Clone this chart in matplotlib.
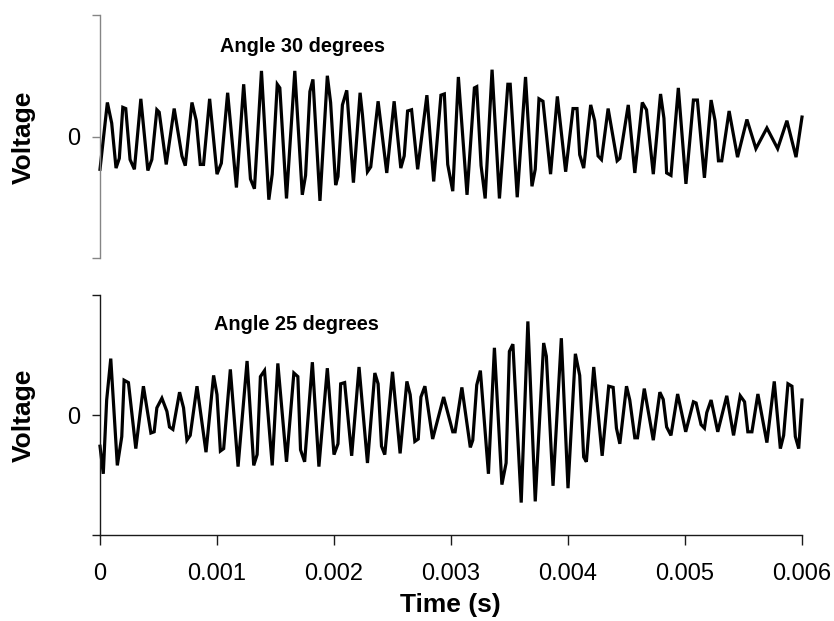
import matplotlib
matplotlib.use("Agg")
import matplotlib.pyplot as plt
import numpy as np

# ---- data (time in ms, voltage in arbitrary units, axis range -1..1) ----
t_top_ms = [0, 0.063, 0.100, 0.137, 0.165, 0.195, 0.220, 0.257, 0.294, 0.349,
            0.409, 0.443, 0.486, 0.506, 0.566, 0.634, 0.700, 0.729, 0.786, 0.823,
            0.857, 0.885, 0.937, 1.000, 1.037, 1.091, 1.166, 1.228, 1.286, 1.320,
            1.380, 1.443,
            1.472, 1.515, 1.537, 1.594, 1.665, 1.729, 1.757, 1.794, 1.820, 1.880,
            1.943, 1.971, 2.014, 2.034, 2.072, 2.109, 2.166, 2.223, 2.243, 2.286,
            2.314, 2.377, 2.451, 2.514, 2.571, 2.600, 2.629, 2.663, 2.715, 2.794,
            2.852,
            2.914, 2.943, 2.972, 3.015, 3.063, 3.137, 3.200, 3.220, 3.257, 3.292,
            3.351, 3.414, 3.486, 3.506, 3.566, 3.637, 3.692, 3.720, 3.752, 3.786,
            3.851, 3.909, 3.980, 4.043, 4.077, 4.100, 4.134, 4.194, 4.228, 4.257,
            4.286, 4.343, 4.420,
            4.443, 4.515, 4.571, 4.635, 4.671, 4.729, 4.791, 4.820, 4.843, 4.880,
            4.943, 5.008, 5.072, 5.106, 5.166, 5.223, 5.257, 5.286, 5.314, 5.377,
            5.449, 5.529, 5.606, 5.700, 5.792, 5.871, 5.949, 6.0]
v_top = [-0.27, 0.28, 0.11, -0.26, -0.18, 0.24, 0.23, -0.19, -0.27, 0.31,
         -0.28, -0.19, 0.22, 0.20, -0.23, 0.23, -0.16, -0.24, 0.28, 0.13,
         -0.23, -0.23, 0.31, -0.31, -0.22, 0.36, -0.42, 0.43, -0.35, -0.43,
         0.54, -0.52,
         -0.31, 0.43, 0.40, -0.51, 0.54, -0.48, -0.32, 0.37, 0.47, -0.53,
         0.50, 0.28, -0.40, -0.33, 0.26, 0.38, -0.38, 0.36, 0.18, -0.29,
         -0.25, 0.29, -0.30, 0.29, -0.26, -0.16, 0.21, 0.22, -0.27, 0.34,
         -0.37,
         0.34, 0.35, -0.23, -0.45, 0.49, -0.48, 0.40, 0.41, -0.24, -0.51,
         0.55, -0.51, 0.43, 0.43, -0.50, 0.49, -0.41, -0.27, 0.31, 0.29,
         -0.31, 0.33, -0.29, 0.23, 0.23, -0.15, -0.26, 0.26, 0.13, -0.16,
         -0.19, 0.23, -0.20,
         -0.18, 0.26, -0.30, 0.28, 0.22, -0.31, 0.35, 0.15, -0.30, -0.32,
         0.40, -0.39, 0.30, 0.30, -0.34, 0.30, 0.13, -0.20, -0.20, 0.21,
         -0.17, 0.14, -0.10, 0.07, -0.10, 0.13, -0.17, 0.16]

t_bot_ms = [0, 0.028, 0.057, 0.092, 0.148, 0.186, 0.206, 0.243, 0.306, 0.371,
            0.435, 0.463, 0.486, 0.529, 0.572, 0.594, 0.623, 0.680, 0.714, 0.743,
            0.771, 0.829, 0.906, 0.971, 1.000, 1.029, 1.057, 1.114, 1.180, 1.257,
            1.314, 1.343, 1.371, 1.406,
            1.472, 1.520, 1.594, 1.657, 1.691, 1.714, 1.749, 1.815, 1.871, 1.943,
            2.000, 2.034, 2.057, 2.091, 2.151, 2.214, 2.286, 2.349, 2.377, 2.406,
            2.434, 2.500, 2.565, 2.623, 2.651, 2.691, 2.720, 2.743, 2.777, 2.843,
            2.937, 3.015, 3.035, 3.093, 3.165, 3.186, 3.220, 3.251, 3.320, 3.371,
            3.435, 3.471, 3.499, 3.529, 3.600, 3.657, 3.720, 3.792, 3.815, 3.872,
            3.943, 4.000, 4.063, 4.100, 4.134, 4.157, 4.220, 4.292, 4.348, 4.386,
            4.414, 4.443,
            4.500, 4.528, 4.571, 4.594, 4.652, 4.729, 4.785, 4.814, 4.843, 4.880,
            4.937, 5.006, 5.072, 5.095, 5.137, 5.166, 5.186, 5.223, 5.280, 5.357,
            5.415, 5.472, 5.509, 5.537, 5.572, 5.623, 5.700, 5.763, 5.815, 5.843,
            5.880, 5.914, 5.943, 5.972, 6.0]
v_bot = [-0.26, -0.49, 0.125, 0.47, -0.42, -0.18, 0.29, 0.27, -0.28, 0.24,
         -0.15, -0.14, 0.06, 0.14, 0.03, -0.10, -0.12, 0.19, 0.06, -0.21,
         -0.17, 0.24, -0.31, 0.33, 0.17, -0.30, -0.28, 0.38, -0.43, 0.45,
         -0.42, -0.33, 0.32, 0.37,
         -0.42, 0.43, -0.39, 0.35, 0.32, -0.29, -0.39, 0.44, -0.43, 0.39,
         -0.33, -0.24, 0.26, 0.27, -0.34, 0.40, -0.40, 0.35, 0.26, -0.26,
         -0.33, 0.36, -0.32, 0.28, 0.17, -0.22, -0.20, 0.15, 0.24, -0.20,
         0.15, -0.14, -0.14, 0.23, -0.27, -0.21, 0.25, 0.37, -0.49, 0.56,
         -0.58, -0.40, 0.53, 0.59, -0.73, 0.78, -0.72, 0.60, 0.49, -0.59,
         0.64, -0.61, 0.51, 0.33, -0.35, -0.39, 0.40, -0.34, 0.24, 0.23,
         -0.11, -0.24,
         0.24, 0.125, -0.19, -0.19, 0.22, -0.21, 0.19, 0.13, -0.10, -0.17,
         0.175, -0.14, 0.11, 0.10, -0.08, -0.11, 0.02, 0.125, -0.14, 0.16,
         -0.17, 0.16, 0.11, -0.14, -0.14, 0.175, -0.23, 0.28, -0.28, -0.17,
         0.26, 0.24, -0.18, -0.28, 0.125]

x_ticks = [0, 0.001, 0.002, 0.003, 0.004, 0.005, 0.006]
x_tick_labels = ["0", "0.001", "0.002", "0.003", "0.004", "0.005", "0.006"]
y_ticks = [-1, 0, 1]
y_tick_labels = ["", "0", ""]
titles = ["Angle 30 degrees", "Angle 25 degrees"]

t_top = np.array(t_top_ms) / 1000.0
t_bot = np.array(t_bot_ms) / 1000.0

plt.rcParams['font.family'] = ['Liberation Sans', 'DejaVu Sans']

W, H = 834, 621
fig = plt.figure(figsize=(W / 100, H / 100), dpi=100)

def frac_rect(x0, y0, x1, y1):
    return [x0 / W, 1 - y1 / H, (x1 - x0) / W, (y1 - y0) / H]

ax1 = fig.add_axes(frac_rect(100, 15, 802, 258))
ax2 = fig.add_axes(frac_rect(100, 295, 802, 535))

for ax, t, v, spine_col in [(ax1, t_top, v_top, '#858585'), (ax2, t_bot, v_bot, '#1a1a1a')]:
    ax.plot(t, v, color='black', lw=2.3, solid_joinstyle='miter', clip_on=False)
    ax.set_xlim(0, 0.006)
    ax.set_ylim(-1, 1)
    ax.set_yticks(y_ticks)
    ax.set_yticklabels(y_tick_labels)
    for s in ['top', 'right']:
        ax.spines[s].set_visible(False)
    ax.spines['left'].set_color(spine_col)
    ax.spines['left'].set_linewidth(1.0)
    ax.tick_params(axis='y', direction='out', length=6, width=1.0, color=spine_col,
                   labelsize=17, pad=8.5)
    ax.patch.set_visible(False)

ax1.spines['bottom'].set_visible(False)
ax1.set_xticks([])

ax2.spines['bottom'].set_color('#1a1a1a')
ax2.spines['bottom'].set_linewidth(1.0)
ax2.set_xticks(x_ticks)
ax2.set_xticklabels(x_tick_labels)
ax2.tick_params(axis='x', direction='out', length=7, width=1.0, color='#1a1a1a',
                labelsize=17, pad=13)

fig.text(302 / W, 1 - 47 / H, titles[0], fontsize=14.3, fontweight='bold',
         ha='center', va='center')
fig.text(296 / W, 1 - 325 / H, titles[1], fontsize=14.3, fontweight='bold',
         ha='center', va='center')
fig.text(24 / W, 1 - 137 / H, "Voltage", fontsize=19, fontweight='bold',
         rotation=90, ha='center', va='center')
fig.text(24 / W, 1 - 415 / H, "Voltage", fontsize=19, fontweight='bold',
         rotation=90, ha='center', va='center')
fig.text(450 / W, 1 - 605 / H, "Time (s)", fontsize=19, fontweight='bold',
         ha='center', va='center')

fig.savefig("out.png", dpi=100)
